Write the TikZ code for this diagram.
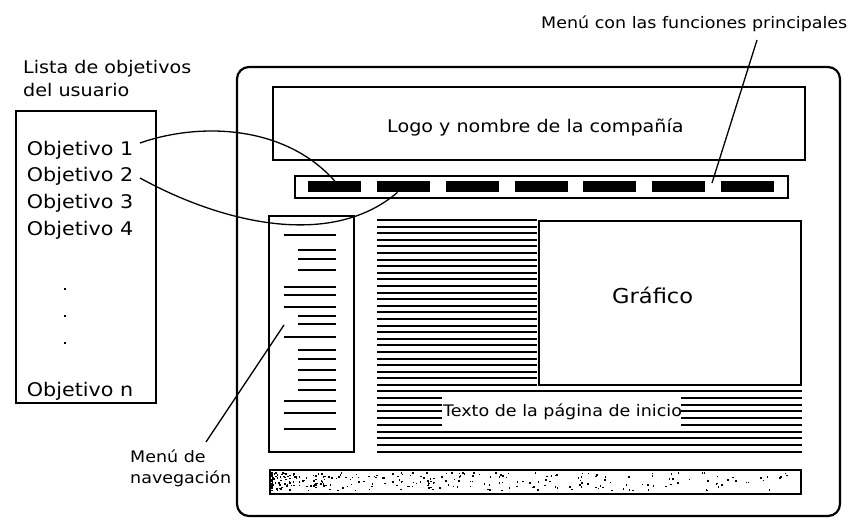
\documentclass[tikz,border=0pt]{standalone}
\usepackage{fontspec}
\setmainfont{DejaVu Sans}[FakeStretch=1.1]
\begin{document}
\begin{tikzpicture}[x=1pt,y=-1pt,
  frame/.style={draw, line width=2.2pt, rounded corners=12pt},
  boxn/.style={draw, line width=2pt, anchor=north west, inner sep=0pt},
  tline/.style={line width=2pt},
  blk/.style={fill=black, anchor=north west, inner sep=0pt, minimum width=53pt, minimum height=11pt},
  lbl/.style={anchor=base west, inner sep=0pt},
  conn/.style={line width=1.3pt},
  fA/.style={font=\fontsize{18.8}{22}\selectfont},
  fB/.style={font=\fontsize{17.4}{20}\selectfont},
  fC/.style={font=\fontsize{15.9}{19}\selectfont},
  fD/.style={font=\fontsize{20.5}{24}\selectfont}]
\useasboundingbox (0,0) rectangle (864,527);
\fill[white] (0,0) rectangle (864,527);

% left list
\node[lbl,fB] (t1) at (23,73.3) {Lista de objetivos};
\node[lbl,fB] (t2) at (23,96.5) {del usuario};
\node[boxn, minimum width=140pt, minimum height=292pt] (list) at (15,110) {};
\node[lbl,fA] (o1) at (26.7,155) {Objetivo 1};
\node[lbl,fA] (o2) at (26.7,181.7) {Objetivo 2};
\node[lbl,fA] (o3) at (26.7,208.3) {Objetivo 3};
\node[lbl,fA] (o4) at (26.7,235) {Objetivo 4};
\node[lbl,fA] (on) at (26.7,396.7) {Objetivo n};
\foreach \yy in {288,315,342} \fill (64,\yy) rectangle ++(2.2,2.2);

% main frame
\draw[frame] (237,67) rectangle (840,516);
\node[boxn, minimum width=532pt, minimum height=73pt] (logo) at (272,86) {};
\node[lbl,fB] (logot) at (387,132.7) {Logo y nombre de la compañía};

% menu bar
\node[boxn, minimum width=493pt, minimum height=22pt] (menu) at (294,175) {};
\foreach \i in {1,...,7} {
  \node[blk] (b\i) at ({308+68.8*(\i-1)},181) {};
}

% navigation box
\node[boxn, minimum width=85pt, minimum height=236pt] (nav) at (268,215) {};
\foreach \yy/\xa in {235/284,250/298,259/298,270/298,287/284,295/284,307/284,316/298,324/298,337/284,350/298,359/298,370/298,380/298,390/298,401/284,413/284,429/284}
  \draw[tline] (\xa,\yy) -- (336,\yy);

% text area
\foreach \k in {0,...,25} \draw[tline] (377,{220+6.6*\k}) -- (537,{220+6.6*\k});
\foreach \k in {0,...,9} {
  \pgfmathsetmacro\yy{391+6.75*\k}
  \ifnum\k>0 \ifnum\k<6
    \draw[tline] (377,\yy) -- (442,\yy);
    \draw[tline] (681,\yy) -- (802,\yy);
  \else
    \draw[tline] (377,\yy) -- (802,\yy);
  \fi\else
    \draw[tline] (377,\yy) -- (802,\yy);
  \fi
}
\node[boxn, fill=white, minimum width=262pt, minimum height=164pt] (graf) at (538,220) {};
\node[lbl,fD] (graft) at (612,303.3) {Gráfico};
\node[lbl,fC] (texto) at (443,416.7) {Texto de la página de inicio};

% footer
\node[boxn, minimum width=531pt, minimum height=24pt] (foot) at (269,469) {};
\pgfmathsetseed{11}
\foreach \i in {1,...,300} {
  \pgfmathsetmacro\uu{rnd}
  \pgfmathsetmacro\xx{271+525*\uu^2.1}
  \pgfmathsetmacro\yy{472+18*rnd}
  \fill (\xx,\yy) rectangle ++(1.5,1.5);
}

% labels
\node[lbl,fC] (menul) at (541,29) {Menú con las funciones principales};
\node[lbl,fC] (navl1) at (130,462) {Menú de};
\node[lbl,fC] (navl2) at (130,483) {navegación};

% connectors
\coordinate (s1) at (140,143);
\coordinate (s2) at (140,178);
\coordinate (m1) at (757,40);
\coordinate (m2) at (712,183);
\coordinate (n1) at (206,442);
\coordinate (n2) at (284,325);
\draw[conn] (s1) .. controls (200,122) and (285,125) .. (b1.north);
\draw[conn] (s2) .. controls (220,222) and (330,250) .. ([xshift=-6pt]b2.south);
\draw[conn] (m1) -- (m2);
\draw[conn] (n1) -- (n2);
\end{tikzpicture}
\end{document}
